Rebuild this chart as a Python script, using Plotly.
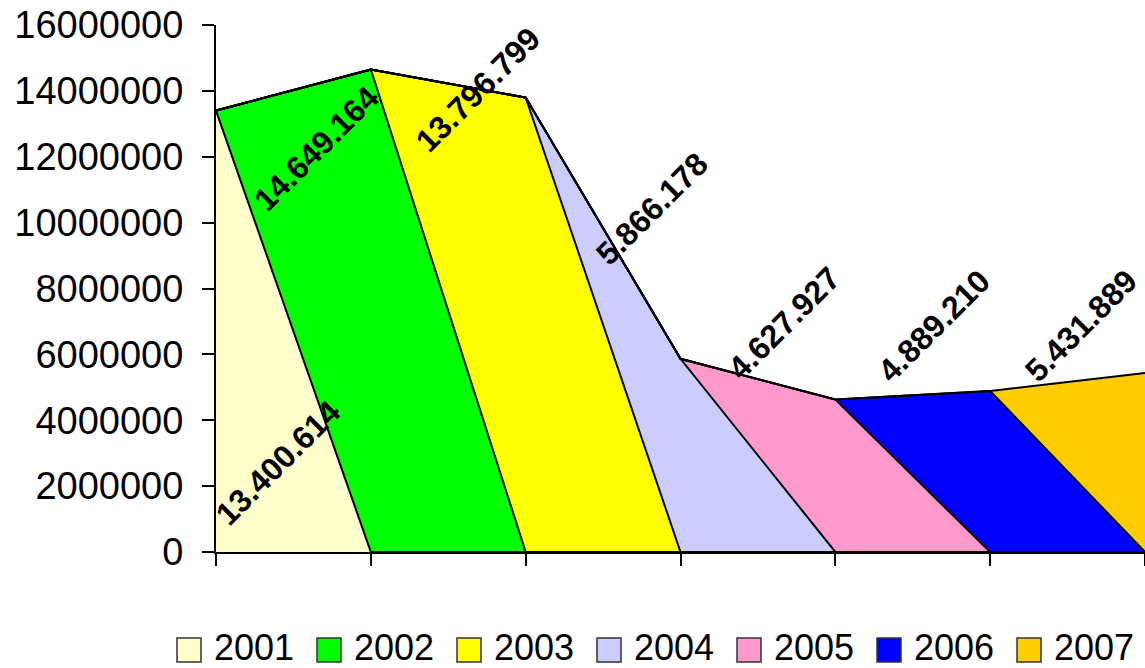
import plotly.graph_objects as go

# ---- data ----
categories = ["2001", "2002", "2003", "2004", "2005", "2006", "2007"]
series_names = ["2001", "2002", "2003", "2004", "2005", "2006", "2007"]
values = [13400614, 14649164, 13796799, 5866178, 4627927, 4889210, 5431889]
y_tick_values = [0, 2000000, 4000000, 6000000, 8000000, 10000000, 12000000, 14000000, 16000000]

# ---- styling / layout ----
colors = ["#FFFFCC", "#00FF00", "#FFFF00", "#CCCCFF", "#FF99CC", "#0000FF", "#FFCC00"]
label_x = [0.40, 0.645, 1.69, 2.815, 3.67, 4.637, 5.585]
label_y = [2.70e6, 12.25e6, 14.03e6, 10.41e6, 6.95e6, 6.86e6, 6.86e6]

W, H = 1145, 668
ML, MR, MT, MB = 216, 0, 25, 116
PW, PH = W - ML - MR, H - MT - MB
FONT = "Liberation Sans, Arial, sans-serif"


def fmt(v):
    return f"{v:,}".replace(",", ".")


def px_x(px):
    return (px - ML) / PW


def px_y(py):
    return (H - MB - py) / PH


fig = go.Figure()
n = len(categories)
for i, name in enumerate(series_names):
    ys = [values[i] if j == i else 0 for j in range(n)]
    fig.add_trace(go.Scatter(
        x=categories, y=ys, name=name, stackgroup="one", mode="lines",
        line=dict(color="black", width=2), fillcolor=colors[i],
        showlegend=False, hoverinfo="skip",
    ))

annotations = []
for i in range(n):
    annotations.append(dict(
        x=label_x[i], y=label_y[i], xref="x", yref="y", text=fmt(values[i]),
        showarrow=False, textangle=-45, xanchor="center", yanchor="middle",
        font=dict(family=FONT, size=32, color="black", weight="bold"),
    ))

# manual legend (square swatches)
shapes = []
leg_left, pitch, sq, leg_cy, text_cy = 177, 140, 24, 650, 647
for i, name in enumerate(series_names):
    x0 = leg_left + i * pitch
    shapes.append(dict(
        type="rect", xref="paper", yref="paper",
        x0=px_x(x0), x1=px_x(x0 + sq), y0=px_y(leg_cy + sq / 2), y1=px_y(leg_cy - sq / 2),
        fillcolor=colors[i], line=dict(color="#333333", width=1.5),
    ))
    annotations.append(dict(
        x=px_x(x0 + sq + 11), y=px_y(text_cy), xref="paper", yref="paper",
        text=name, showarrow=False, xanchor="left", yanchor="middle",
        font=dict(family=FONT, size=36, color="black"),
    ))

fig.update_layout(
    width=W, height=H,
    margin=dict(l=ML, r=MR, t=MT, b=MB, pad=0),
    plot_bgcolor="white", paper_bgcolor="white",
    showlegend=False,
    annotations=annotations, shapes=shapes,
    font=dict(family=FONT, color="black"),
)
fig.update_xaxes(
    type="category", range=[0, n - 1], showticklabels=False,
    showline=True, linecolor="black", linewidth=2,
    ticks="outside", ticklen=12, tickwidth=2, tickcolor="black",
    showgrid=False, zeroline=False,
)
fig.update_yaxes(
    range=[0, 16000000], tickvals=y_tick_values,
    ticktext=[str(v) for v in y_tick_values],
    showline=True, linecolor="black", linewidth=2,
    ticks="outside", ticklen=12, tickwidth=2, tickcolor="black",
    tickfont=dict(family=FONT, size=38, color="black"),
    ticklabelstandoff=11,
    showgrid=False, zeroline=False,
)

fig.write_html(
    "out.html",
    config={"displayModeBar": False},
    post_script="document.body.style.margin='0';document.body.style.overflow='hidden';",
)
